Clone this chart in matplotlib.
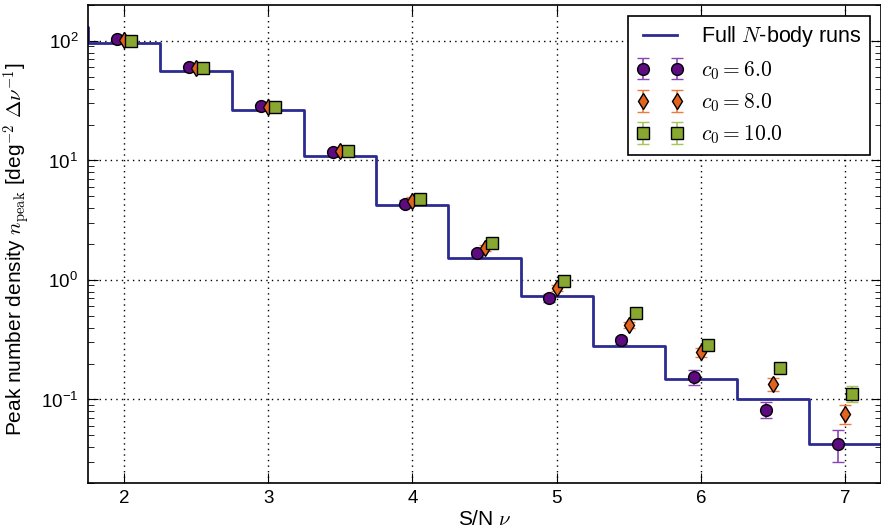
import matplotlib
matplotlib.use("Agg")
import matplotlib.pyplot as plt
import numpy as np

plt.rcParams['font.family'] = ['Liberation Sans', 'DejaVu Sans']
plt.rcParams['mathtext.fontset'] = 'cm'

# binned histogram from the full N-body runs (bin centres)
nbody_nu = [1.5, 2.0, 2.5, 3.0, 3.5, 4.0, 4.5, 5.0, 5.5, 6.0, 6.5, 7.0, 7.5]
nbody_n = [131, 96, 56, 26.3, 10.8, 4.27, 1.53, 0.73, 0.279, 0.147, 0.100, 0.0427, 0.0427]

nu = [2.0, 2.5, 3.0, 3.5, 4.0, 4.5, 5.0, 5.5, 6.0, 6.5, 7.0]

n_c6 = [104, 60.5, 28.5, 11.7, 4.35, 1.69, 0.706, 0.313, 0.153, 0.0824, 0.0427]
e_c6 = [2, 1.5, 1, 0.6, 0.3, 0.1, 0.05, 0.02, 0.022, 0.013, 0.013]

n_c8 = [101, 59, 28, 12, 4.6, 1.86, 0.857, 0.419, 0.248, 0.134, 0.076]
e_c8 = [2, 1.5, 1, 0.6, 0.3, 0.1, 0.05, 0.025, 0.02, 0.017, 0.014]

n_c10 = [100, 59, 28, 12, 4.8, 2.05, 0.98, 0.528, 0.284, 0.182, 0.112]
e_c10 = [2, 1.5, 1, 0.6, 0.3, 0.1, 0.05, 0.03, 0.02, 0.015, 0.017]

fig = plt.figure(figsize=(8.81, 5.30), dpi=100)
ax = fig.add_axes([88/881, 47/530, 793/881, 478/530])

ax.plot(nbody_nu, nbody_n, drawstyle='steps-mid', color='#2b2b92', lw=2,
        label='Full $N$-body runs', zorder=2)

series = [
    (n_c6, e_c6, -0.05, 'o', '#5e0b82', '#8a45b5', '$c_0=6.0$', 8.5),
    (n_c8, e_c8, 0.0, 'd', '#e2621e', '#f07a3a', '$c_0=8.0$', 8.5),
    (n_c10, e_c10, 0.05, 's', '#88a832', '#a6c65a', '$c_0=10.0$', 8),
]
for vals, errs, off, mk, fc, ec, lab, ms in series:
    x = np.array(nu) + off
    ax.errorbar(x, vals, yerr=errs, fmt=mk, mfc=fc, mec='k', mew=1, ms=ms,
                ecolor=ec, elinewidth=1.2, capsize=4, capthick=1.2,
                label=lab, zorder=3)

ax.set_yscale('log')
ax.set_xlim(1.75, 7.25)
ax.set_ylim(0.02, 200)
ax.set_xticks([2, 3, 4, 5, 6, 7])
ax.grid(True, which='major', color='k', linestyle=(0, (1, 3)), lw=1)
ax.tick_params(which='both', direction='in', labelsize=13.5, top=True, right=True)
ax.tick_params(which='major', length=7)
ax.tick_params(axis='x', which='major', pad=5)
ax.tick_params(axis='y', which='major', pad=7)
ax.tick_params(which='minor', length=4)
for s in ax.spines.values():
    s.set_linewidth(1.2)

ax.set_xlabel(r'S/N $\nu$', fontsize=15, labelpad=2)
ax.set_ylabel(r'Peak number density $n_{\rm peak}$ [deg$^{-2}$ $\Delta\nu^{-1}$]',
              fontsize=15)
ax.yaxis.set_label_coords(-0.07, 0.49)

leg = ax.legend(loc='upper right', numpoints=2, fontsize=15.5, fancybox=False,
                framealpha=1, edgecolor='k', borderaxespad=0.5,
                handlelength=2.2, labelspacing=0.45)
leg.get_frame().set_linewidth(1.2)

fig.savefig('out.png', dpi=100)
